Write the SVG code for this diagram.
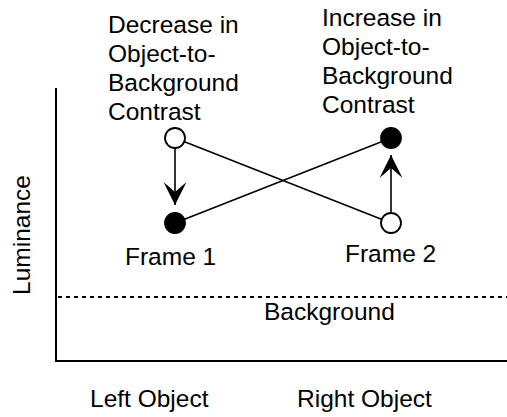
<svg xmlns="http://www.w3.org/2000/svg" width="507" height="417" viewBox="0 0 507 417">
<defs>
<style>
text{font-family:"Liberation Sans",Arial,sans-serif;font-size:24.5px;fill:#000}
.ax{stroke:#000;stroke-width:2;fill:none}
.ln{stroke:#000;stroke-width:1.6;fill:none}
.open{fill:#fff;stroke:#000;stroke-width:1.8}
.fill{fill:#000;stroke:#000;stroke-width:1.8}
</style>
<marker id="ah" markerUnits="userSpaceOnUse" markerWidth="24" markerHeight="24" refX="23" refY="12" orient="auto" viewBox="0 0 24 24">
<path d="M23,12 L0,0.5 L10,12 L0,23.5 Z" fill="#000"/>
</marker>
</defs>
<rect width="507" height="417" fill="#fff"/>
<g id="axes">
<line class="ax" x1="56" y1="88" x2="56" y2="362"/>
<line class="ax" x1="55" y1="361" x2="507" y2="361"/>
<line x1="58" y1="297" x2="507" y2="297" stroke="#000" stroke-width="2" stroke-dasharray="4,4"/>
<text transform="translate(30,235) rotate(-90)" text-anchor="middle">Luminance</text>
<text x="264" y="320">Background</text>
<text x="90" y="407">Left Object</text>
<text x="297" y="407">Right Object</text>
</g>
<g id="connectors">
<line class="ln" x1="175" y1="138" x2="391" y2="223"/>
<line class="ln" x1="175" y1="223" x2="391" y2="138"/>
<line class="ln" x1="175" y1="148" x2="175" y2="205" marker-end="url(#ah)"/>
<line class="ln" x1="391" y1="212" x2="391" y2="155" marker-end="url(#ah)"/>
</g>
<g id="left-frame1-top"><circle class="open" cx="175" cy="138" r="10"/></g>
<g id="left-frame2-bottom"><circle class="fill" cx="175" cy="223" r="10"/></g>
<g id="right-frame1-bottom"><circle class="open" cx="391" cy="223" r="10"/></g>
<g id="right-frame2-top"><circle class="fill" cx="391" cy="138" r="10"/></g>
<g id="label-decrease">
<text x="108" y="33">Decrease in</text>
<text x="108" y="62">Object-to-</text>
<text x="108" y="91">Background</text>
<text x="108" y="120">Contrast</text>
</g>
<g id="label-increase">
<text x="322" y="26">Increase in</text>
<text x="322" y="55">Object-to-</text>
<text x="322" y="84">Background</text>
<text x="322" y="113">Contrast</text>
</g>
<g id="frame1"><text x="125" y="265">Frame 1</text></g>
<g id="frame2"><text x="345" y="262">Frame 2</text></g>
</svg>
